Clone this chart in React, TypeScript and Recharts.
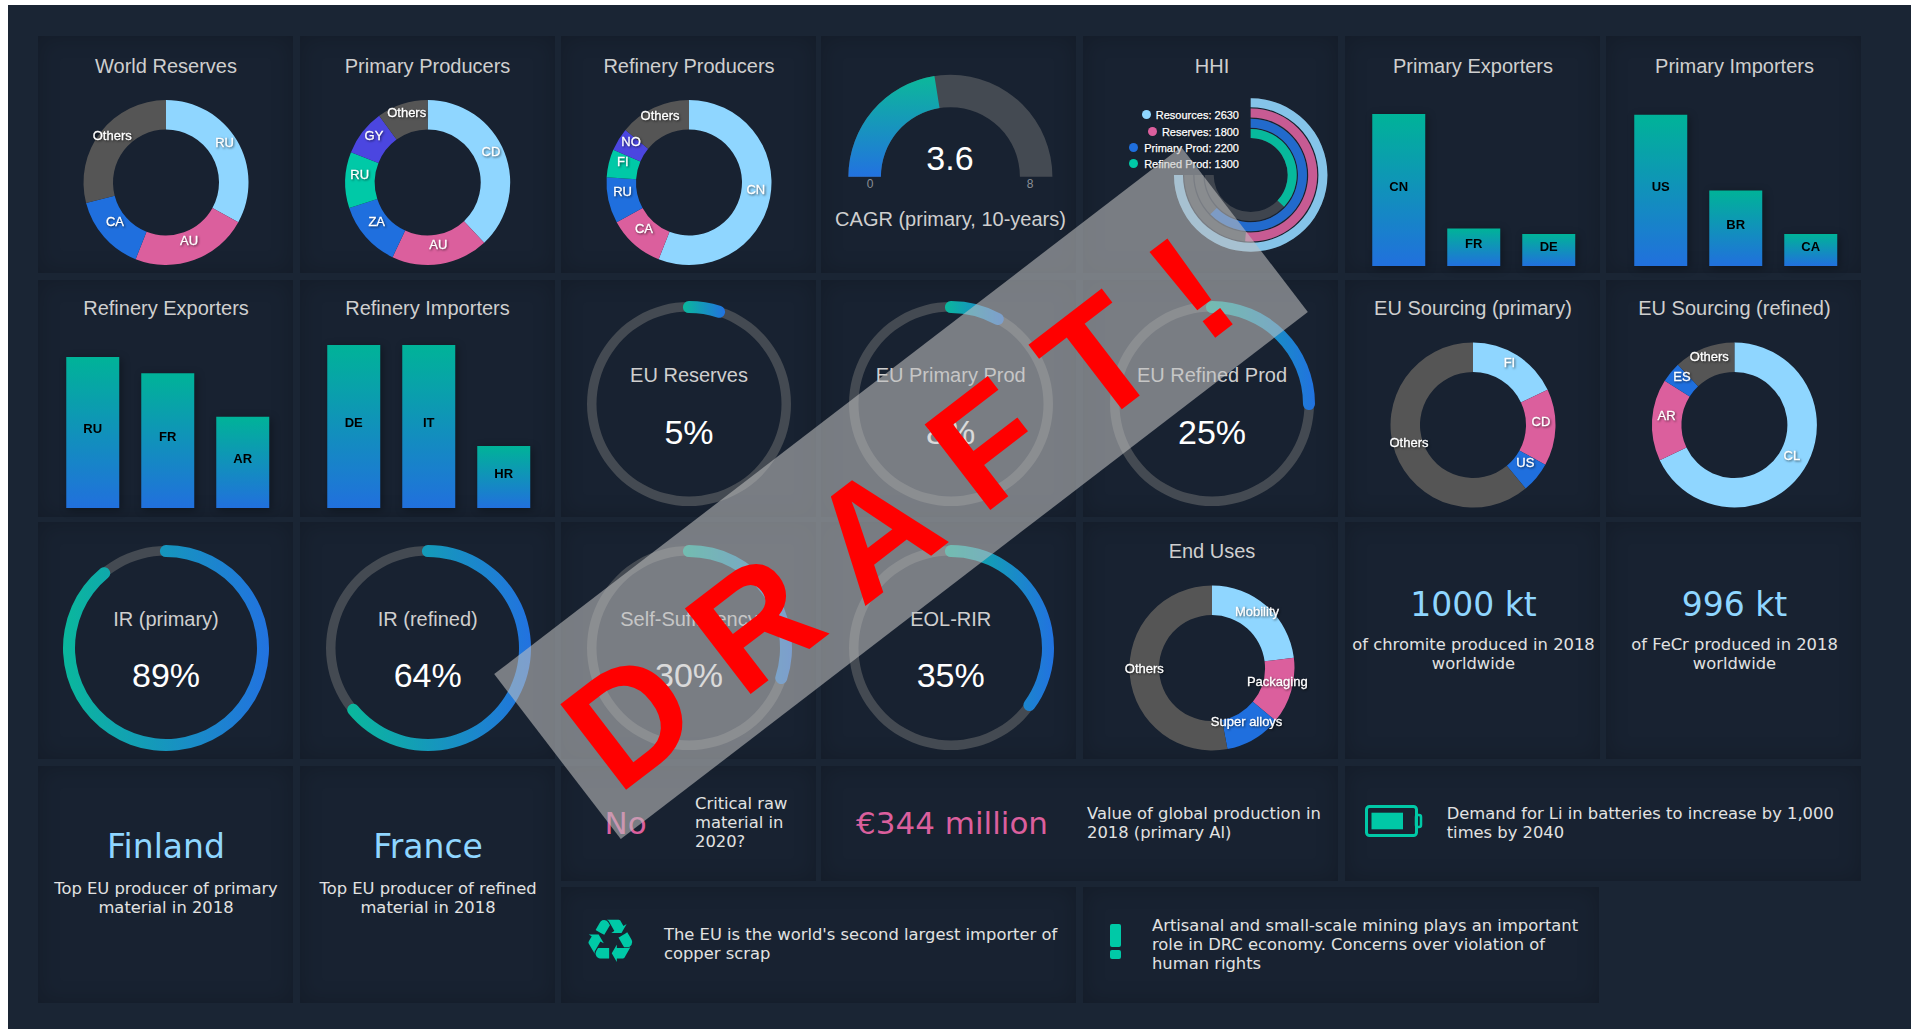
import React from 'react';
import { PieChart, Pie, Cell, BarChart, Bar, XAxis, YAxis, LabelList, RadialBarChart, RadialBar, PolarAngleAxis } from 'recharts';

const LIGHT = '#8fd6ff', PINK = '#db5f9d', BLUE = '#1f6fde', GREEN = '#00c9a7', PURPLE = '#4b46e0', GREY = '#555555';
const TRACK = '#444a52';
const SANS = '"Liberation Sans", Arial, sans-serif';
const DEJA = '"DejaVu Sans", sans-serif';

// ---- data ----
const worldReservesNames = ['RU', 'AU', 'CA', 'Others'];
const worldReservesValues = [33, 23, 15, 29];
const primaryProducersNames = ['CD', 'AU', 'ZA', 'RU', 'GY', 'Others'];
const primaryProducersValues = [38, 19, 13, 11, 9, 10];
const refineryProducersNames = ['CN', 'CA', 'RU', 'FI', 'NO', 'Others'];
const refineryProducersValues = [56, 11, 9, 5.5, 4.5, 14];
const euPrimaryNames = ['FI', 'CD', 'US', 'Others'];
const euPrimaryValues = [18, 15, 6, 61];
const euRefinedNames = ['CL', 'AR', 'ES', 'Others'];
const euRefinedValues = [68, 16, 4, 12];
const endUseNames = ['Mobility', 'Packaging', 'Super alloys', 'Others'];
const endUseValues = [23, 13, 11, 53];

const primaryExporterNames = ['CN', 'FR', 'DE'];
const primaryExporterValues = [100, 24.6, 21];
const primaryImporterNames = ['US', 'BR', 'CA'];
const primaryImporterValues = [99.5, 49.7, 21];
const refineryExporterNames = ['RU', 'FR', 'AR'];
const refineryExporterValues = [92.6, 82.6, 56];
const refineryImporterNames = ['DE', 'IT', 'HR'];
const refineryImporterValues = [100, 100, 38];

const hhiNames = ['Resources', 'Reserves', 'Primary Prod', 'Refined Prod'];
const hhiValues = [2630, 1800, 2200, 1300];
const hhiColors = [LIGHT, PINK, BLUE, GREEN];
const hhiDotX = [1146, 1152.5, 1133.6, 1133.6];
const hhiRowY = [115, 132, 147.5, 163.5];

const cagrValue = 3.6;
const cagrMax = 8;

// ---- layout helpers ----
const colX = [38, 300, 561, 821, 1083, 1345, 1606];
const rowY = [36, 280, 522, 766];
const W = 255, H = 237;

function Panel({ x, y, w, h }: any) {
  return <div style={{ position: 'absolute', left: x, top: y, width: w, height: h, boxShadow: 'inset 0 0 22px rgba(0,0,0,.2)', background: '#182231' }} />;
}
function T({ x, y, children, size = 20, color = '#cfcfcf', font = SANS, left = false }: any) {
  return (
    <div style={{ position: 'absolute', left: x, top: y, transform: left ? 'translateY(-50%)' : 'translate(-50%,-50%)', whiteSpace: 'nowrap', fontSize: size, lineHeight: 1, color, fontFamily: font }}>
      {children}
    </div>
  );
}

const RAD = Math.PI / 180;
const donutLabel = (p: any) => {
  const x = p.cx + 68 * Math.cos(-p.midAngle * RAD);
  const y = p.cy + 68 * Math.sin(-p.midAngle * RAD) - 5.5;
  return (
    <text x={x} y={y} textAnchor="middle" dominantBaseline="central" fill="#fff" stroke="#fff" strokeWidth={0.3} fontSize={13} fontFamily={SANS} style={{ filter: 'drop-shadow(1px 1px 1px rgba(0,0,0,.55))' }}>
      {p.name}
    </text>
  );
};

function Donut({ px, py, cx, cy, names, values, colors }: any) {
  const data = names.map((name: string, i: number) => ({ name, value: values[i] }));
  return (
    <div style={{ position: 'absolute', left: px, top: py }}>
      <PieChart width={W} height={H} margin={{ top: 0, right: 0, bottom: 0, left: 0 }}>
        <Pie data={data} dataKey="value" nameKey="name" cx={cx - px} cy={cy - py} innerRadius={53} outerRadius={82.5} startAngle={90} endAngle={-270} stroke="none" isAnimationActive={false} labelLine={false} label={donutLabel}>
          {data.map((_: any, i: number) => <Cell key={i} fill={colors[i]} stroke="none" />)}
        </Pie>
      </PieChart>
    </div>
  );
}

function Bars({ id, x, top, bottom, names, values }: any) {
  const data = names.map((name: string, i: number) => ({ name, value: values[i] }));
  const lab = (p: any) => (
    <text x={p.x + p.width / 2} y={p.y + p.height / 2 - 4} textAnchor="middle" dominantBaseline="central" fontSize={13} fontWeight="bold" fontFamily={SANS} fill="#000">
      {p.value}
    </text>
  );
  return (
    <div style={{ position: 'absolute', left: x, top, filter: 'drop-shadow(2px 2px 4px rgba(0,0,0,.35))' }}>
      <BarChart width={225} height={bottom - top} data={data} margin={{ top: 0, right: 0, bottom: 0, left: 0 }} barCategoryGap="15%">
        <defs>
          <linearGradient id={id} x1="0" y1="0" x2="0" y2="1">
            <stop offset="0%" stopColor="#00b398" />
            <stop offset="100%" stopColor="#2170dd" />
          </linearGradient>
        </defs>
        <XAxis dataKey="name" hide />
        <YAxis hide domain={[0, 100]} />
        <Bar dataKey="value" fill={`url(#${id})`} isAnimationActive={false}>
          <LabelList dataKey="name" content={lab} />
        </Bar>
      </BarChart>
    </div>
  );
}

function Ring({ id, cx, cy, value, title, valueDy = 27.5 }: any) {
  const size = 220;
  const progress = [{ v: value + 2 }, { v: 98 - value }];
  return (
    <>
      <div style={{ position: 'absolute', left: cx - size / 2, top: cy - size / 2 }}>
        <PieChart width={size} height={size} margin={{ top: 0, right: 0, bottom: 0, left: 0 }}>
          <defs>
            <linearGradient id={id} x1="0" y1="0" x2="1" y2="0">
              <stop offset="0%" stopColor="#0ab89c" />
              <stop offset="100%" stopColor="#2272e0" />
            </linearGradient>
          </defs>
          <Pie data={[{ v: 100 }]} dataKey="v" cx={size / 2} cy={size / 2} innerRadius={92.5} outerRadius={102} startAngle={90} endAngle={-270} stroke="none" fill={TRACK} isAnimationActive={false} />
          <Pie data={progress} dataKey="v" cx={size / 2} cy={size / 2} innerRadius={91} outerRadius={103} startAngle={93.6} endAngle={-266.4} cornerRadius={6} stroke="none" isAnimationActive={false}>
            <Cell fill={`url(#${id})`} stroke="none" />
            <Cell fill="transparent" stroke="none" />
          </Pie>
        </PieChart>
      </div>
      <T x={cx} y={cy - 29}>{title}</T>
      <T x={cx} y={cy + valueDy} size={34} color="#fff">{value}%</T>
    </>
  );
}

function Kpi({ cx, y, big, lines, color = LIGHT, gap = 41 }: any) {
  return (
    <>
      <T x={cx} y={y} size={33} color={color} font={DEJA}>{big}</T>
      {lines.map((l: string, i: number) => <T key={i} x={cx} y={y + gap + i * 19} size={16.35} color="#e2e2e2" font={DEJA}>{l}</T>)}
    </>
  );
}
function Lines({ x, y, lines }: any) {
  return <>{lines.map((l: string, i: number) => <T key={i} x={x} y={y + i * 19} size={16.35} color="#e2e2e2" font={DEJA} left>{l}</T>)}</>;
}

export default function App() {
  const hhiData = hhiNames.map((name, i) => ({ name, value: hhiValues[i], color: hhiColors[i] })).reverse();
  return (
    <div style={{ position: 'absolute', left: 0, top: 0, width: 1911, height: 1029, overflow: 'hidden', background: '#fff' }}>
      <div style={{ position: 'absolute', left: 8, top: 5, width: 1903, height: 1024, background: '#1a2534' }} />

      {colX.map((x) => rowY.slice(0, 3).map((y) => <Panel key={`${x}-${y}`} x={x} y={y} w={W} h={H} />))}
      <Panel x={colX[0]} y={rowY[3]} w={W} h={H} />
      <Panel x={colX[1]} y={rowY[3]} w={W} h={H} />
      <Panel x={colX[2]} y={766} w={W} h={115} />
      <Panel x={colX[3]} y={766} w={517} h={115} />
      <Panel x={colX[5]} y={766} w={516} h={115} />
      <Panel x={colX[2]} y={887} w={515} h={116} />
      <Panel x={colX[4]} y={887} w={516} h={116} />

      {/* Row 1 */}
      <T x={166} y={66}>World Reserves</T>
      <Donut px={colX[0]} py={rowY[0]} cx={166} cy={182.5} names={worldReservesNames} values={worldReservesValues} colors={[LIGHT, PINK, BLUE, GREY]} />
      <T x={427.5} y={66}>Primary Producers</T>
      <Donut px={colX[1]} py={rowY[0]} cx={427.7} cy={182.5} names={primaryProducersNames} values={primaryProducersValues} colors={[LIGHT, PINK, BLUE, GREEN, PURPLE, GREY]} />
      <T x={689} y={66}>Refinery Producers</T>
      <Donut px={colX[2]} py={rowY[0]} cx={689} cy={182.5} names={refineryProducersNames} values={refineryProducersValues} colors={[LIGHT, PINK, BLUE, GREEN, PURPLE, GREY]} />

      {/* CAGR */}
      <div style={{ position: 'absolute', left: colX[3], top: rowY[0] }}>
        <PieChart width={W} height={H} margin={{ top: 0, right: 0, bottom: 0, left: 0 }}>
          <defs>
            <linearGradient id="cagrGrad" x1="0" y1="0" x2="0" y2="1">
              <stop offset="0%" stopColor="#0cb89a" />
              <stop offset="100%" stopColor="#2272e0" />
            </linearGradient>
          </defs>
          <Pie data={[{ v: cagrMax }]} dataKey="v" cx={950.4 - colX[3]} cy={176.7 - rowY[0]} innerRadius={69.5} outerRadius={102} startAngle={180} endAngle={0} stroke="none" fill={TRACK} isAnimationActive={false} />
          <Pie data={[{ v: cagrValue }, { v: cagrMax - cagrValue }]} dataKey="v" cx={950.4 - colX[3]} cy={176.7 - rowY[0]} innerRadius={69.5} outerRadius={102} startAngle={180} endAngle={0} stroke="none" isAnimationActive={false}>
            <Cell fill="url(#cagrGrad)" stroke="none" />
            <Cell fill="transparent" stroke="none" />
          </Pie>
        </PieChart>
      </div>
      <T x={950} y={158} size={34} color="#fff">{cagrValue}</T>
      <T x={870} y={184} size={12} color="#8a8f96">0</T>
      <T x={1030} y={184} size={12} color="#8a8f96">{cagrMax}</T>
      <T x={950.5} y={219}>CAGR (primary, 10-years)</T>

      {/* HHI */}
      <T x={1212} y={66}>HHI</T>
      <div style={{ position: 'absolute', left: colX[4], top: rowY[0] }}>
        <RadialBarChart width={W} height={H} data={hhiData} cx={1250.7 - colX[4]} cy={175 - rowY[0]} innerRadius={36} outerRadius={77} startAngle={90} endAngle={-180} barSize={9} margin={{ top: 0, right: 0, bottom: 0, left: 0 }}>
          <PolarAngleAxis type="number" domain={[0, 2630]} tick={false} axisLine={false} />
          <RadialBar dataKey="value" background={{ fill: TRACK }} isAnimationActive={false}>
            {hhiData.map((d, i) => <Cell key={i} fill={d.color} fillOpacity={0.88} />)}
          </RadialBar>
        </RadialBarChart>
      </div>
      {hhiNames.map((n, i) => (
        <React.Fragment key={n}>
          <div style={{ position: 'absolute', left: hhiDotX[i] - 4.5, top: hhiRowY[i] - 5, width: 9, height: 9, borderRadius: '50%', background: hhiColors[i] }} />
          <div style={{ position: 'absolute', right: 1911 - 1239, top: hhiRowY[i], transform: 'translateY(-50%)', fontSize: 11, lineHeight: 1, color: '#fff', fontFamily: SANS, whiteSpace: 'nowrap', textShadow: '1px 1px 1px rgba(0,0,0,.5)', WebkitTextStroke: '0.25px #fff' } as any}>
            {n}: {hhiValues[i]}
          </div>
        </React.Fragment>
      ))}

      <T x={1473} y={66}>Primary Exporters</T>
      <Bars id="gPE" x={1361} top={114} bottom={266} names={primaryExporterNames} values={primaryExporterValues} />
      <T x={1734.5} y={66}>Primary Importers</T>
      <Bars id="gPI" x={1622.8} top={114} bottom={266} names={primaryImporterNames} values={primaryImporterValues} />

      {/* Row 2 */}
      <T x={166} y={308}>Refinery Exporters</T>
      <Bars id="gRE" x={55} top={345} bottom={508} names={refineryExporterNames} values={refineryExporterValues} />
      <T x={427.5} y={308}>Refinery Importers</T>
      <Bars id="gRI" x={316} top={345} bottom={508} names={refineryImporterNames} values={refineryImporterValues} />
      <Ring id="g1" cx={689} cy={404} value={5} title="EU Reserves" />
      <Ring id="g2" cx={950.7} cy={404} value={8} title="EU Primary Prod" />
      <Ring id="g3" cx={1212} cy={404} value={25} title="EU Refined Prod" />
      <T x={1473} y={308}>EU Sourcing (primary)</T>
      <Donut px={colX[5]} py={rowY[1]} cx={1473} cy={425} names={euPrimaryNames} values={euPrimaryValues} colors={[LIGHT, PINK, BLUE, GREY]} />
      <T x={1734.4} y={308}>EU Sourcing (refined)</T>
      <Donut px={colX[6]} py={rowY[1]} cx={1734.4} cy={425} names={euRefinedNames} values={euRefinedValues} colors={[LIGHT, PINK, BLUE, GREY]} />

      {/* Row 3 */}
      <Ring id="g4" cx={166} cy={648} value={89} title="IR (primary)" valueDy={26.5} />
      <Ring id="g5" cx={427.7} cy={648} value={64} title="IR (refined)" valueDy={26.5} />
      <Ring id="g6" cx={689} cy={648} value={30} title="Self-Sufficiency" valueDy={26.5} />
      <Ring id="g7" cx={950.7} cy={648} value={35} title="EOL-RIR" valueDy={26.5} />
      <T x={1212} y={551}>End Uses</T>
      <Donut px={colX[4]} py={rowY[2]} cx={1212} cy={668} names={endUseNames} values={endUseValues} colors={[LIGHT, PINK, BLUE, GREY]} />
      <Kpi cx={1473.5} y={604} big="1000 kt" lines={['of chromite produced in 2018', 'worldwide']} />
      <Kpi cx={1734.5} y={604} big="996 kt" lines={['of FeCr produced in 2018', 'worldwide']} />

      {/* Row 4 */}
      <Kpi cx={166} y={846} gap={42.5} big="Finland" lines={['Top EU producer of primary', 'material in 2018']} />
      <Kpi cx={428} y={846} gap={42.5} big="France" lines={['Top EU producer of refined', 'material in 2018']} />
      <T x={625.7} y={822.5} size={31} color={PINK} font={DEJA}>No</T>
      <Lines x={695} y={804} lines={['Critical raw', 'material in', '2020?']} />
      <T x={856} y={822.5} size={31} color={PINK} font={DEJA} left>€344 million</T>
      <Lines x={1087} y={813.5} lines={['Value of global production in', '2018 (primary Al)']} />
      <svg style={{ position: 'absolute', left: 1363, top: 803 }} width={62} height={37}>
        <rect x={3.5} y={3.5} width={50} height={29} rx={3} fill="none" stroke={GREEN} strokeWidth={3} />
        <rect x={53} y={12} width={5} height={12} rx={2} fill="none" stroke={GREEN} strokeWidth={2.5} />
        <rect x={8.5} y={9.7} width={31.5} height={16.6} fill={GREEN} />
      </svg>
      <Lines x={1446.7} y={813.5} lines={['Demand for Li in batteries to increase by 1,000', 'times by 2040']} />

      <T x={610.5} y={941} size={60} color={GREEN} font={DEJA}>♻</T>
      <Lines x={664} y={935} lines={["The EU is the world's second largest importer of", 'copper scrap']} />
      <svg style={{ position: 'absolute', left: 1108, top: 922 }} width={16} height={40}>
        <rect x={2} y={2} width={11} height={23} rx={2} fill={GREEN} />
        <rect x={2} y={28} width={11} height={9} rx={2} fill={GREEN} />
      </svg>
      <Lines x={1152} y={926} lines={['Artisanal and small-scale mining plays an important', 'role in DRC economy. Concerns over violation of', 'human rights']} />

      {/* DRAFT overlay */}
      <div style={{ position: 'absolute', left: 901 - 433, top: 493 - 104, width: 866, height: 208, background: 'rgba(192,192,192,.58)', transform: 'rotate(-37.5deg)', display: 'flex', alignItems: 'center', justifyContent: 'center', color: '#f00', fontFamily: SANS, fontWeight: 'bold', fontSize: 157, whiteSpace: 'pre' }}>
        <span style={{ position: 'relative', left: -14, top: 14 }}>D R A F T !</span>
      </div>
    </div>
  );
}
